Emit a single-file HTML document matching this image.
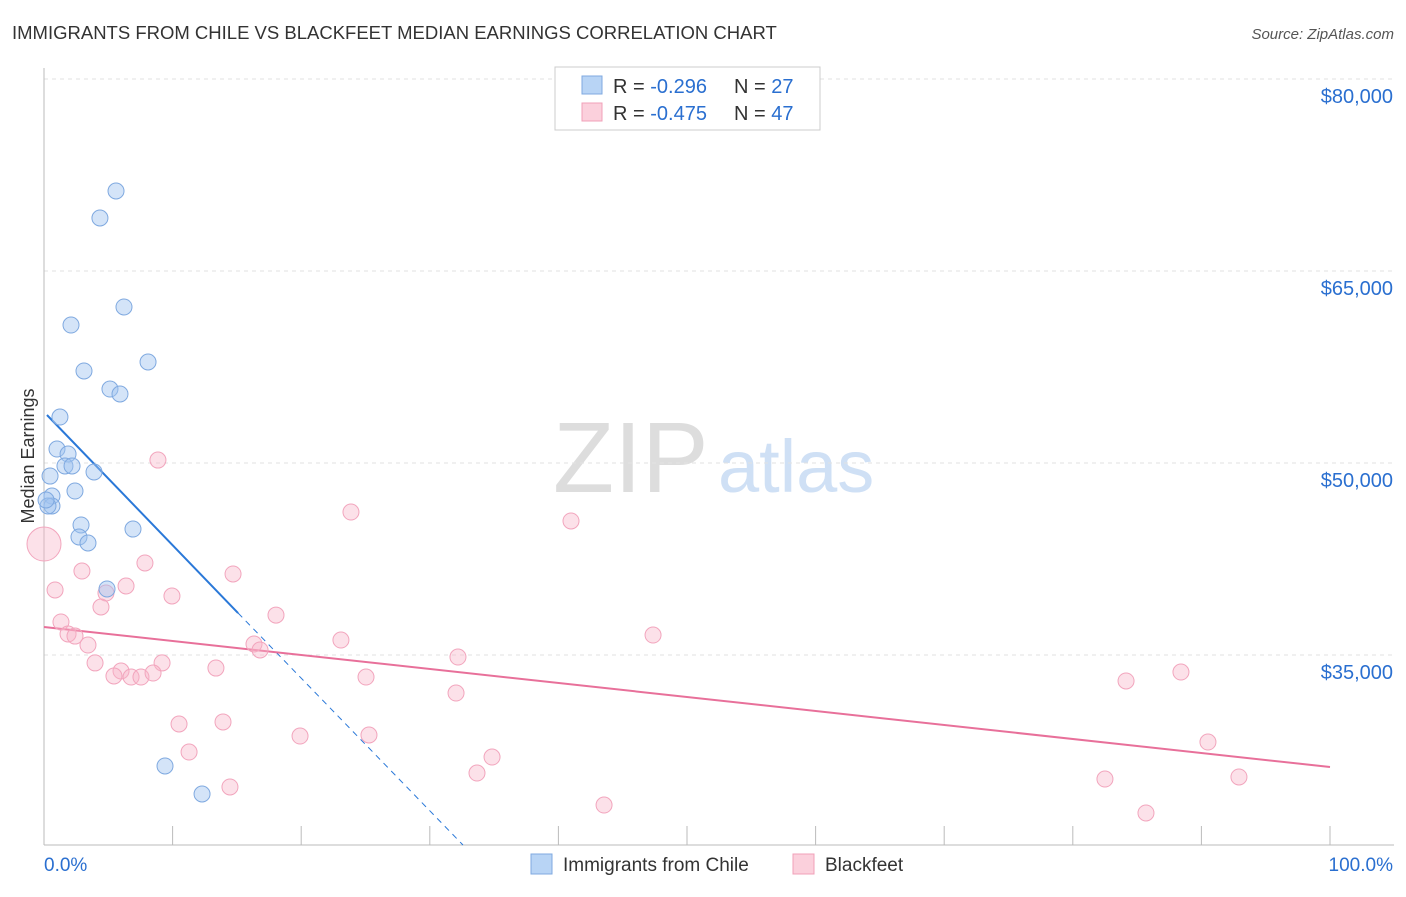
<!DOCTYPE html>
<html><head><meta charset="utf-8"><style>
body{margin:0;background:#fff;font-family:"Liberation Sans",sans-serif;}
svg text{font-family:"Liberation Sans",sans-serif;}
</style></head><body>
<svg id="chart" width="1406" height="892" xmlns="http://www.w3.org/2000/svg">
<text x="12" y="39" font-size="18.5" fill="#333">IMMIGRANTS FROM CHILE VS BLACKFEET MEDIAN EARNINGS CORRELATION CHART</text>
<text x="1394" y="39" font-size="15" fill="#555" font-style="italic" text-anchor="end">Source: ZipAtlas.com</text>
<text transform="translate(34,456) rotate(-90)" font-size="18" fill="#333" text-anchor="middle">Median Earnings</text>
<g>
<text x="553" y="492" font-size="100" fill="#ddd" font-family="Liberation Serif,serif">ZIP</text>
<text x="718" y="492" font-size="74" fill="#cfe0f5">atlas</text>
</g>
<g id="grid"></g>
<g id="axes"></g>
<g id="trend"></g>
<g id="pts"></g>
<g>
<rect x="555" y="67" width="265" height="63" fill="#fff" stroke="#ccc"/>
<rect x="582" y="76" width="20" height="18" fill="#b8d4f5" stroke="#7fa9e0"/>
<rect x="582" y="103" width="20" height="18" fill="#fbd0dc" stroke="#f0a0b8"/>
<text x="613" y="93" font-size="20" fill="#333">R = <tspan fill="#2a6fd0">-0.296</tspan></text>
<text x="734" y="93" font-size="20" fill="#333">N = <tspan fill="#2a6fd0">27</tspan></text>
<text x="613" y="120" font-size="20" fill="#333">R = <tspan fill="#2a6fd0">-0.475</tspan></text>
<text x="734" y="120" font-size="20" fill="#333">N = <tspan fill="#2a6fd0">47</tspan></text>
</g>
<g>
<rect x="531" y="854" width="21" height="20" fill="#b8d4f5" stroke="#7fa9e0"/>
<text x="563" y="871" font-size="19" fill="#333">Immigrants from Chile</text>
<rect x="793" y="854" width="21" height="20" fill="#fbd0dc" stroke="#f0a0b8"/>
<text x="825" y="871" font-size="19" fill="#333">Blackfeet</text>
</g>
</svg>
<script>
const yTicks=[80000,65000,50000,35000];
const yTickLabels=["$80,000","$65,000","$50,000","$35,000"];
const xTickLabels=["0.0%","100.0%"];
const chileX=[5.6,4.35,6.22,2.1,8.09,3.11,5.13,5.91,1.24,1.01,1.87,1.63,2.18,3.89,0.47,2.41,0.62,0.62,0.31,2.88,2.72,3.42,6.92,4.9,9.41,12.29,0.16];
const chileY=[71250,69140,62190,60780,57890,57190,55780,55390,53590,51090,50700,49770,49770,49300,48980,47810,47420,46640,46640,45160,44220,43750,44840,40160,26330,24140,47110];
const bfX=[0,8.86,23.87,40.98,0.86,2.95,7.85,14.7,6.38,4.82,9.95,18.04,1.32,4.43,1.87,2.41,3.42,16.33,16.8,23.09,32.19,47.36,3.97,9.18,13.37,5.99,5.44,6.77,7.54,8.48,25.04,32.04,10.5,13.92,19.91,25.27,11.28,34.84,33.67,14.46,43.55,84.14,88.41,90.51,82.5,92.92,85.69];
const bfY=[43670,50230,46170,45470,40080,41560,42190,41330,40390,39840,39610,38120,37580,38750,36640,36480,35780,35860,35390,36170,34840,36560,34380,34380,33980,33750,33360,33280,33280,33590,33280,32030,29610,29770,28670,28750,27420,27030,25780,24690,23280,32970,33670,28200,25310,25470,22660];
const chileTrend=[0.23,53750,15.09,38280,32.58,20156];
const bfTrend=[0,37190,100,26250];

const NS="http://www.w3.org/2000/svg";
const X=v=>44+v*12.86;
const Y=v=>79+(80000-v)*192/15000;
function mk(tag,attrs,parent){const e=document.createElementNS(NS,tag);for(const k in attrs)e.setAttribute(k,attrs[k]);document.getElementById(parent).appendChild(e);return e;}

yTicks.forEach((t,i)=>{
 const l=mk('line',{x1:44,x2:1394,y1:Y(t),y2:Y(t),stroke:'#e2e2e2','stroke-dasharray':'4,4'},'grid');
 
 
 const tx=mk('text',{x:1393,y:Y(t)+24,'font-size':20,fill:'#2a6fd0','text-anchor':'end'},'grid');
 tx.textContent=yTickLabels[i];
 
 
});
const ax=mk('line',{x1:44,x2:1394,y1:845,y2:845,stroke:'#bbb'},'axes');


const ay=mk('line',{x1:44,x2:44,y1:68,y2:845,stroke:'#bbb'},'axes');


for(let i=1;i<=10;i++){
 const t=mk('line',{x1:X(i*10),x2:X(i*10),y1:826,y2:845,stroke:'#bbb'},'axes');
 
 
}
const xl0=mk('text',{x:44,y:871,'font-size':19,fill:'#2a6fd0'},'axes');
xl0.textContent=xTickLabels[0];


const xl1=mk('text',{x:1393,y:871,'font-size':19,fill:'#2a6fd0','text-anchor':'end'},'axes');
xl1.textContent=xTickLabels[1];



bfX.forEach((x,i)=>{
 const c=mk('circle',{cx:X(x),cy:Y(bfY[i]),r:i===0?17:8,fill:'rgba(248,180,200,0.4)',stroke:'#f2a5bd','stroke-width':1},'pts');
 
 
});
chileX.forEach((x,i)=>{
 const c=mk('circle',{cx:X(x),cy:Y(chileY[i]),r:8,fill:'rgba(160,196,240,0.45)',stroke:'#7fa9e0','stroke-width':1},'pts');
 
 
});
const t1=mk('line',{x1:X(chileTrend[0]),y1:Y(chileTrend[1]),x2:X(chileTrend[2]),y2:Y(chileTrend[3]),stroke:'#2a78d8','stroke-width':2},'trend');


const t2=mk('line',{x1:X(chileTrend[2]),y1:Y(chileTrend[3]),x2:X(chileTrend[4]),y2:Y(chileTrend[5]),stroke:'#2a78d8','stroke-width':1,'stroke-dasharray':'6,5'},'trend');


const t3=mk('line',{x1:X(bfTrend[0]),y1:Y(bfTrend[1]),x2:X(bfTrend[2]),y2:Y(bfTrend[3]),stroke:'#e8709a','stroke-width':2},'trend');


</script>
</body></html>
